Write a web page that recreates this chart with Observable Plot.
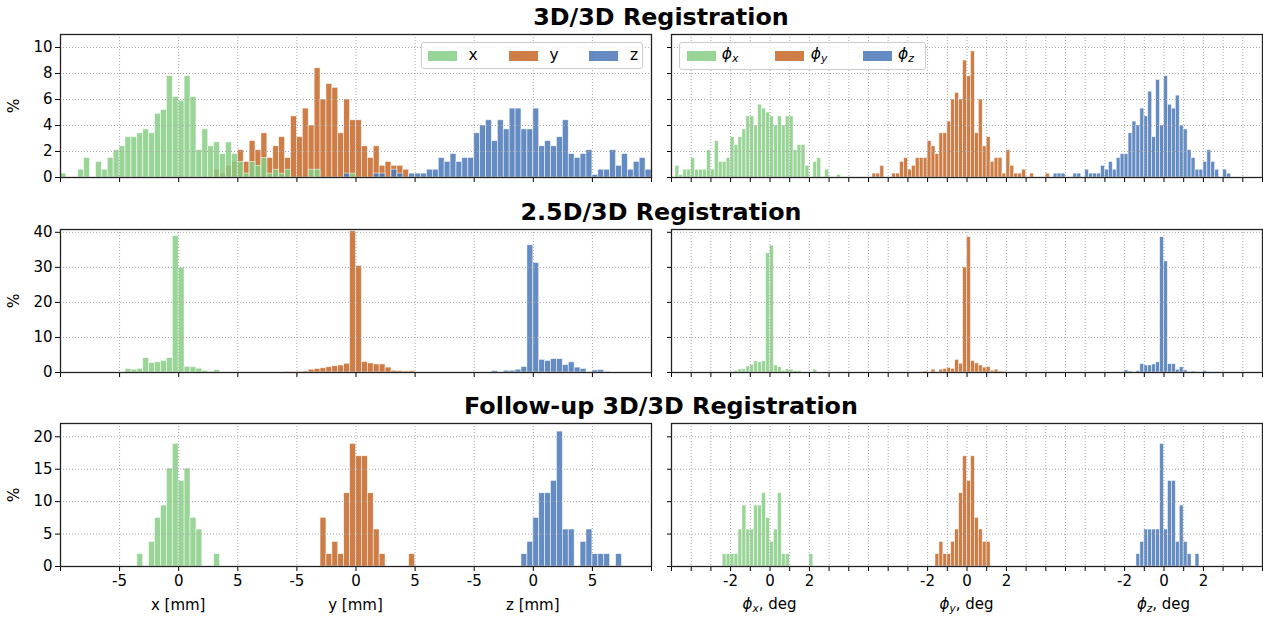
<!DOCTYPE html>
<html><head><meta charset="utf-8">
<script src="https://cdn.jsdelivr.net/npm/d3@7"></script>
<script src="https://cdn.jsdelivr.net/npm/@observablehq/plot@0.6"></script>
<style>
body{margin:0;background:#fff;}
#root{position:relative;width:1263px;height:619px;overflow:hidden;font-family:"DejaVu Sans",sans-serif;color:#000;background:#fff;}
.title{position:absolute;left:60px;width:1202px;text-align:center;font-weight:bold;font-size:23.8px;line-height:1;font-family:"DejaVu Sans";}
.lab{position:absolute;font-size:15px;white-space:nowrap;transform:translate(-50%,-50%);line-height:1;font-family:"DejaVu Sans";}
.ylab{position:absolute;font-size:15.5px;transform:translate(-50%,-50%) rotate(-90deg);line-height:1;font-family:"DejaVu Sans";}
.legend{position:absolute;background:rgba(255,255,255,0.8);border:1px solid #cccccc;border-radius:3px;box-sizing:border-box;}
.sw{position:absolute;width:29px;height:10px;}
.lt{position:absolute;font-size:15.5px;transform:translate(-50%,-50%);white-space:nowrap;line-height:1;font-family:"DejaVu Sans";}
sub{font-size:70%;vertical-align:-0.25em;}
</style></head><body><div id="root"></div>
<script>
// ---------------- data ----------------
const rowTitles = ["3D/3D Registration", "2.5D/3D Registration", "Follow-up 3D/3D Registration"];
const transNames = ["x", "y", "z"];
const transAxisLabels = ["x [mm]", "y [mm]", "z [mm]"];
const rotNames = ["x", "y", "z"];
const transBin = 0.5;   // mm
const rotBin = 0.2;     // deg
const transGroupOffset = [0, 15, 30];
const rotGroupOffset = [0, 10, 20];
const transTicks = [-10, -5, 0, 5, 10, 15, 20, 25, 30, 35, 40];
const transTickLabels = ["", "-5", "0", "5", "-5", "0", "5", "-5", "0", "5", ""];
const rotTicks = [-5,-4,-3,-2,-1,0,1,2,3,4,5,6,7,8,9,10,11,12,13,14,15,16,17,18,19,20,21,22,23,24,25];
const rotLabeledTicks = [-2, 0, 2, 8, 10, 12, 18, 20, 22];
const rotLabeledText = ["-2", "0", "2", "-2", "0", "2", "-2", "0", "2"];
const yTicksByRow = [[0, 2, 4, 6, 8, 10], [0, 10, 20, 30, 40], [0, 5, 10, 15, 20]];
const yMaxByRow = [11, 40.8, 22.05];

// Row 1: 3D/3D  (percent per bin)
const r1_x_start = -10;
const r1_x = [0.3,0,0,0.6,1.5,0,1.2,0.6,1.5,2.1,2.4,3.1,3.1,3.4,3.7,3.4,4.9,5.2,7.8,6.2,5.9,7.8,6.2,2.1,3.7,2.4,2.7,1.8,2.7,1.8,1.2,0.3,1.2,0.9,1.5,0.3,0.6,0.3,0.6,0,0,0,0.6,0.6,0,0,0,0,0,0.3];
const r1_y_start = -12;
const r1_y = [0.6,0.3,0.9,1.2,2.1,1.2,2.8,2.1,3.4,1.5,2.4,3.1,1.5,4.7,3.1,5.3,4.0,8.4,6.0,7.2,6.9,3.4,6.0,4.4,4.4,2.4,1.5,2.4,0.9,1.2,0.9,0.9,0.6];
const r1_z_start = -16;
const r1_z = [0.3,0,0,0,0,0.3,0.3,0,0.6,0.3,0,0.3,0.3,0.3,0.6,0.6,1.5,1.2,1.8,1.2,1.5,1.5,3.4,4.0,4.4,2.8,4.4,3.7,5.3,5.3,3.7,3.7,5.3,2.4,2.8,2.4,3.1,4.4,1.8,1.5,1.8,2.1,0.2,0.6,0.6,2.1,0.9,1.8,0.6,1.2,1.5,0.6];
const r1_px_start = -4.8;
const r1_px = [0.9,0.2,0.6,0.6,1.5,0.6,0.6,0.6,2.1,0.6,2.8,1.2,1.2,1.5,3.1,2.5,3.1,3.7,4.7,4.7,4.0,5.6,5.3,5.0,4.7,4.0,4.7,4.0,4.7,4.7,2.1,2.5,2.5,0.9,0,1.2,1.5,0,0.6,0,0,0.2];
const r1_py_start = -4.8;
const r1_py = [0.3,0.3,0.9,0,0,0.3,0.3,1.2,1.5,0.6,0.9,1.5,1.5,1.5,2.8,2.4,1.8,3.4,3.4,4.3,6.0,6.5,6.0,9.0,7.8,9.7,3.4,6.0,2.4,3.1,1.2,1.5,1.5,0.3,2.1,0.9,0.3,0.3,0.6,0,0.3,0,0,0,0.3];
const r1_pz_start = -5.6;
const r1_pz = [0.3,0.3,0.3,0,0,0.3,0.3,0,0.6,0.3,0.3,0.3,0.9,0.6,1.2,0.6,1.5,1.8,1.8,3.4,4.3,4.0,5.3,4.7,6.6,3.1,7.5,4.0,7.8,5.6,5.3,6.3,4.0,3.7,2.1,1.5,0.6,0.6,1.2,2.1,1.2,0.6,0,0.6,0.3];

// Row 2: 2.5D/3D
const r2_x_start = -4.5;
const r2_x = [1.0,0.8,1.05,4.1,2.7,2.9,3.3,4.1,38.9,29.9,1.6,1.5,1.1,0.5,0.2,0.7];
const r2_y_start = -6;
const r2_y = [0.2,0.1,0.2,0.3,0.8,1.0,1.2,1.5,1.8,2.0,2.5,40.3,30.4,3.0,2.6,2.3,2.3,1.4,0.5,0.4,0.3,0.4];
const r2_z_start = -3.5;
const r2_z = [0.4,0,0.5,0.5,0.8,1.6,36.3,31.2,3.6,3.3,3.8,3.8,2.1,2.9,1.4,1.0,0,0.6,0.7,0.2];
const r2_px_start = -3.2;
const r2_px = [0.1,0,0,0,0.1,0.1,0.2,0.5,0.9,0.9,1.7,2.2,3.2,2.9,3.2,34.0,36.2,2.0,1.5,0.5,0.9,0.8,0.4,0.4,0,0,0,0.8,0,0,0,0,0,0.2];
const r2_py_start = -2.2;
const r2_py = [0.3,0,0.8,0,0.8,1.0,1.3,1.0,3.6,2.5,30.0,38.6,3.3,2.6,2.0,1.4,1.6,0.5,0.8,0.3,0.2];
const r2_pz_start = -2.0;
const r2_pz = [0.6,0.3,0,0.4,2.4,2.0,2.0,2.3,2.9,38.6,31.7,2.4,2.4,0.8,1.5,0.6,0.2,0.3,0.2,0,0.4,0.2,0,0.2];

// Row 3: Follow-up 3D/3D
const r3_x_start = -3.5;
const r3_x = [1.9,0,3.8,7.5,9.4,15.1,18.9,13.2,15.1,7.5,5.7,0,0,1.9];
const r3_y_start = -3;
const r3_y = [7.5,1.9,3.8,1.9,11.3,18.9,17.0,17.0,11.3,5.7,1.9,0,0,0,0,1.9];
const r3_z_start = -1;
const r3_z = [1.9,3.8,7.5,11.3,11.3,13.2,20.8,5.7,5.7,0,3.8,5.7,1.9,1.9,1.9,0,1.9];
const r3_px_start = -2.4;
const r3_px = [1.9,1.9,1.9,1.9,5.7,9.4,5.7,5.7,9.4,9.4,11.3,7.5,3.8,5.7,11.3,1.9,1.9,0,0,0,0,0,1.9];
const r3_py_start = -1.6;
const r3_py = [1.9,3.8,1.9,1.9,3.8,5.7,11.3,17.0,13.2,17.0,7.5,5.7,3.8,3.8];
const r3_pz_start = -1.4;
const r3_pz = [1.9,3.8,5.7,5.7,5.7,5.7,18.9,5.7,13.2,13.2,3.8,9.4,3.8,1.9,0,1.9];

// ---------------- styles / layout ----------------
const COLORS = ["#87ce84", "#c46625", "#4978b8"];
const FILL_OPACITY = 0.85;
const DRAW_ORDER = [1, 0, 2];
const FRAME_TOPS = [34, 229, 423];
const FRAME_H = 143;
const LEFT_FRAME = [60, 651];
const RIGHT_FRAME = [671, 1262];
const MT = 10, MB = 32;
const TICK_FONT = 15;

const transData = [
  [[r1_x_start, r1_x], [r1_y_start, r1_y], [r1_z_start, r1_z]],
  [[r2_x_start, r2_x], [r2_y_start, r2_y], [r2_z_start, r2_z]],
  [[r3_x_start, r3_x], [r3_y_start, r3_y], [r3_z_start, r3_z]]
];
const rotData = [
  [[r1_px_start, r1_px], [r1_py_start, r1_py], [r1_pz_start, r1_pz]],
  [[r2_px_start, r2_px], [r2_py_start, r2_py], [r2_pz_start, r2_pz]],
  [[r3_px_start, r3_px], [r3_py_start, r3_py], [r3_pz_start, r3_pz]]
];

function binsOf(start, values, width, offset) {
  return values.map((v, i) => ({x1: start + i * width + offset, x2: start + (i + 1) * width + offset, v}))
               .filter(d => d.v > 0);
}

const root = document.getElementById("root");

function panel(row, isRot) {
  const series = isRot ? rotData[row] : transData[row];
  const bin = isRot ? rotBin : transBin;
  const offs = isRot ? rotGroupOffset : transGroupOffset;
  const xTicks = isRot ? rotTicks : transTicks;
  const labelMap = isRot ? new Map(rotLabeledTicks.map((t, i) => [t, rotLabeledText[i]]))
                         : new Map(transTicks.map((t, i) => [t, transTickLabels[i]]));
  const showX = row === 2;
  const frame = isRot ? RIGHT_FRAME : LEFT_FRAME;
  const ml = isRot ? 12 : 60, mr = isRot ? 1 : 12;
  const width = ml + (frame[1] - frame[0]) + mr;
  const yTicks = yTicksByRow[row];
  const marks = [];
  for (const k of DRAW_ORDER) {
    const [start, vals] = series[k];
    marks.push(Plot.rectY(binsOf(start, vals, bin, offs[k]), {
      x1: "x1", x2: "x2", y: "v", fill: COLORS[k], fillOpacity: FILL_OPACITY,
      stroke: "white", strokeWidth: 0.7, strokeOpacity: 0.75
    }));
  }
  const gridStyle = {stroke: "#a8a8a8", strokeOpacity: 1, strokeWidth: 1, strokeDasharray: "1,2"};
  marks.push(Plot.gridX(xTicks, gridStyle));
  marks.push(Plot.gridY(yTicks, gridStyle));
  marks.push(Plot.axisX(xTicks, {
    tickSize: 5, tickPadding: 4, label: null, stroke: "#000", strokeWidth: 1, fontSize: TICK_FONT,
    tickFormat: d => showX ? (labelMap.get(d) ?? "") : ""
  }));
  marks.push(Plot.axisY(yTicks, {
    tickSize: isRot ? 4 : 5, tickPadding: 3, label: null, stroke: "#000", strokeWidth: 1, fontSize: TICK_FONT,
    tickFormat: d => isRot ? "" : String(d)
  }));
  marks.push(Plot.frame({stroke: "#222", strokeWidth: 1.3}));
  const svg = Plot.plot({
    width, height: MT + FRAME_H + MB,
    marginLeft: ml, marginRight: mr, marginTop: MT, marginBottom: MB,
    x: {domain: isRot ? [-5, 25] : [-10, 40]},
    y: {domain: [0, yMaxByRow[row]]},
    style: {fontFamily: "DejaVu Sans", fontSize: TICK_FONT + "px", color: "#000", background: "transparent", overflow: "visible"},
    marks
  });
  svg.style.position = "absolute";
  svg.style.left = (frame[0] - ml) + "px";
  svg.style.top = (FRAME_TOPS[row] - MT) + "px";
  root.appendChild(svg);
  return {svg, left: frame[0] - ml, xs: svg.scale("x")};
}

function el(cls, html, css) {
  const d = document.createElement("div");
  d.className = cls; d.innerHTML = html;
  Object.assign(d.style, css);
  root.appendChild(d);
  return d;
}

for (let r = 0; r < 3; r++) {
  el("title", rowTitles[r], {top: (FRAME_TOPS[r] - 28) + "px"});
  const L = panel(r, false);
  const R = panel(r, true);
  el("ylab", "%", {left: "15px", top: (FRAME_TOPS[r] + FRAME_H / 2) + "px"});
  if (r === 2) {
    for (let k = 0; k < 3; k++) {
      el("lab", transAxisLabels[k], {left: (L.left + L.xs.apply(transGroupOffset[k])) + "px", top: "605px"});
      el("lab", `<i>ϕ</i><sub><i>${rotNames[k]}</i></sub>, deg`, {left: (R.left + R.xs.apply(rotGroupOffset[k])) + "px", top: "605px"});
    }
  }
}

// legends (row 1)
function legend(left, top, w, h, swX, labX, labels) {
  const box = el("legend", "", {left: left + "px", top: top + "px", width: w + "px", height: h + "px"});
  for (let k = 0; k < 3; k++) {
    const s = document.createElement("div");
    s.className = "sw";
    Object.assign(s.style, {left: swX[k] + "px", top: "8px", background: COLORS[k], opacity: FILL_OPACITY});
    box.appendChild(s);
    const t = document.createElement("div");
    t.className = "lt"; t.innerHTML = labels[k];
    Object.assign(t.style, {left: labX[k] + "px", top: "13px"});
    box.appendChild(t);
  }
}
legend(421, 42, 222, 27, [6, 87, 167], [51, 132, 212], transNames);
legend(679, 42, 247, 28, [7, 95, 183], [50, 139, 226], rotNames.map(n => `<i>ϕ</i><sub><i>${n}</i></sub>`));
</script></body></html>
